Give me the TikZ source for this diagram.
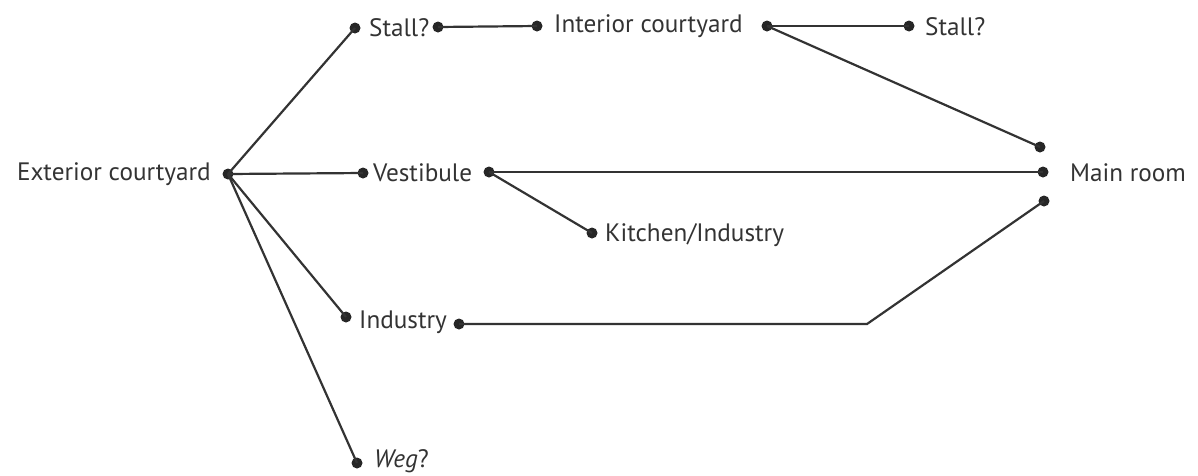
\documentclass[tikz,border=0pt]{standalone}
\usepackage{fontspec}
\setmainfont{PT Sans}
\begin{document}
\begin{tikzpicture}[x=1pt,y=-1pt,
  dot/.style={circle,fill=black!85,inner sep=0pt,minimum size=11pt},
  lbl/.style={inner sep=0pt,text=black!80,font=\fontsize{25.2}{30}\selectfont},
  conn/.style={line width=2.2pt,draw=black!80}]
\useasboundingbox (0,0) rectangle (1198,475);
% dots
\node[dot] (ext) at (228,174) {};
\node[dot] (st1) at (355,28) {};
\node[dot] (st1r) at (438,27) {};
\node[dot] (intl) at (537,26) {};
\node[dot] (intr) at (767,26) {};
\node[dot] (st2) at (909,26) {};
\node[dot] (mrt) at (1040,147) {};
\node[dot] (mrm) at (1043,172) {};
\node[dot] (mrb) at (1044,201) {};
\node[dot] (vest) at (363,173) {};
\node[dot] (vestr) at (489,172) {};
\node[dot] (kit) at (592,233) {};
\node[dot] (ind) at (346,317) {};
\node[dot] (indr) at (459,324) {};
\node[dot] (weg) at (357,463) {};
\coordinate (bend) at (867,324);
% labels
\node[lbl,anchor=east] (extL) at (211,174) {Exterior courtyard};
\node[lbl,anchor=west] (st1L) at (369,28) {Stall?};
\node[lbl,anchor=west] (intL) at (554,26) {Interior courtyard};
\node[lbl,anchor=west] (st2L) at (925,27) {Stall?};
\node[lbl,anchor=west] (mrL) at (1070,173) {Main room};
\node[lbl,anchor=west] (vestL) at (373,173) {Vestibule};
\node[lbl,anchor=west] (kitL) at (605,235) {Kitchen/Industry};
\node[lbl,anchor=west] (indL) at (359,322) {Industry};
\node[lbl,anchor=west] (wegL) at (374,461) {\textit{Weg}?};
% connectors
\draw[conn] (ext.center) -- (st1.center);
\draw[conn] (ext.center) -- (vest.center);
\draw[conn] (ext.center) -- (ind.center);
\draw[conn] (ext.center) -- (weg.center);
\draw[conn] (st1r.center) -- (intl.center);
\draw[conn] (intr.center) -- (st2.center);
\draw[conn] (intr.center) -- (mrt.center);
\draw[conn] (vestr.center) -- (mrm.center);
\draw[conn] (vestr.center) -- (kit.center);
\draw[conn] (indr.center) -- (bend) -- (mrb.center);
\end{tikzpicture}
\end{document}
